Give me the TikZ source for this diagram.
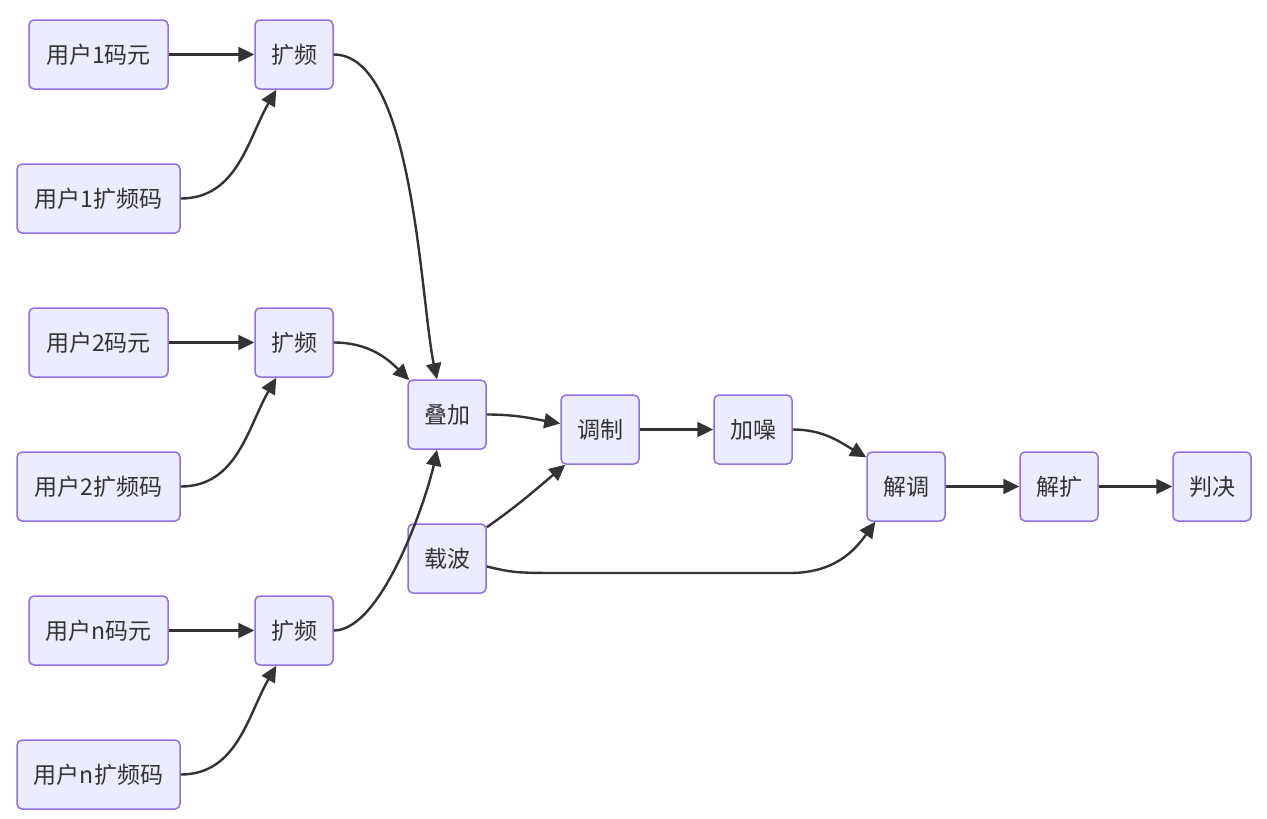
\documentclass[tikz,border=0pt]{standalone}
\usepackage{fontspec}
\setmainfont{Noto Sans CJK SC}
\usepackage{tikz}
\usetikzlibrary{arrows.meta}
\definecolor{boxfill}{HTML}{ECECFF}
\definecolor{boxline}{HTML}{9370DB}
\definecolor{linkcol}{HTML}{333333}
\begin{document}
\begin{tikzpicture}
        [x=1pt,y=-1pt,
         every node/.style={rectangle,rounded corners=5pt,draw=boxline,fill=boxfill,line width=1.5pt,
           minimum height=69pt,minimum width=78pt,inner sep=0pt,font=\fontsize{23}{27}\selectfont,text=linkcol},
         code/.style={minimum width=139pt},
         spread/.style={minimum width=163pt},
         link/.style={draw=linkcol,line width=2.4pt,-{Triangle[length=16pt,width=15pt]}}]
        \useasboundingbox (0,0) rectangle (1267,819);
        \node [code] (u1code) at (98.5,54.5) {用户1码元};
        \node [spread] (u1sc) at (98.5,198.5) {用户1扩频码};
        \node [code] (u2code) at (98.5,342.5) {用户2码元};
        \node [spread] (u2sc) at (98.5,486.5) {用户2扩频码};
        \node [code] (uncode) at (98.5,630.5) {用户n码元};
        \node [spread] (unsc) at (98.5,774.5) {用户n扩频码};
        \node (k1) at (294,54.5) {扩频};
        \node (k2) at (294,342.5) {扩频};
        \node (kn) at (294,630.5) {扩频};
        \node (dj) at (447,414.5) {叠加};
        \node (zb) at (447,558.5) {载波};
        \node (tz) at (600,429.5) {调制};
        \node (jz) at (753,429.5) {加噪};
        \node (jt) at (906,486.5) {解调};
        \node (jk) at (1059,486.5) {解扩};
        \node (pj) at (1212,486.5) {判决};
        
        \path [link] (u1code) -- (k1);
        \path [link] (u2code) -- (k2);
        \path [link] (uncode) -- (kn);
        \path [link] (u1sc.east) to[out=0,in=-120] ([xshift=22pt]k1.south west);
        \path [link] (u2sc.east) to[out=0,in=-120] ([xshift=22pt]k2.south west);
        \path [link] (unsc.east) to[out=0,in=-120] ([xshift=22pt]kn.south west);
        \path [link] (k1.east) to[out=0,in=102,looseness=0.6] ([xshift=-10pt]dj.north);
        \path [link] (k2.east) to[out=0,in=135] ([xshift=2pt,yshift=-1pt]dj.north west);
        \path [link] (kn.east) to[out=0,in=-102,looseness=0.6] ([xshift=-10pt]dj.south);
        \path [link] (dj.east) to[out=0,in=170] ([yshift=6pt]tz.west);
        \path [link] ([yshift=-4pt]zb.north east) to[out=35,in=-140] ([xshift=5pt]tz.south west);
        \path [link] ([yshift=-8pt]zb.east) .. controls (515,573) .. (570,573) -- (790,573)
            .. controls (835,573) and (855,550) .. ([xshift=9pt]jt.south west);
        \path [link] (tz) -- (jz);
        \path [link] (jz.east) to[out=0,in=150] ([yshift=-6pt]jt.north west);
        \path [link] (jt) -- (jk);
        \path [link] (jk) -- (pj);
    
    \end{tikzpicture}
\end{document}
